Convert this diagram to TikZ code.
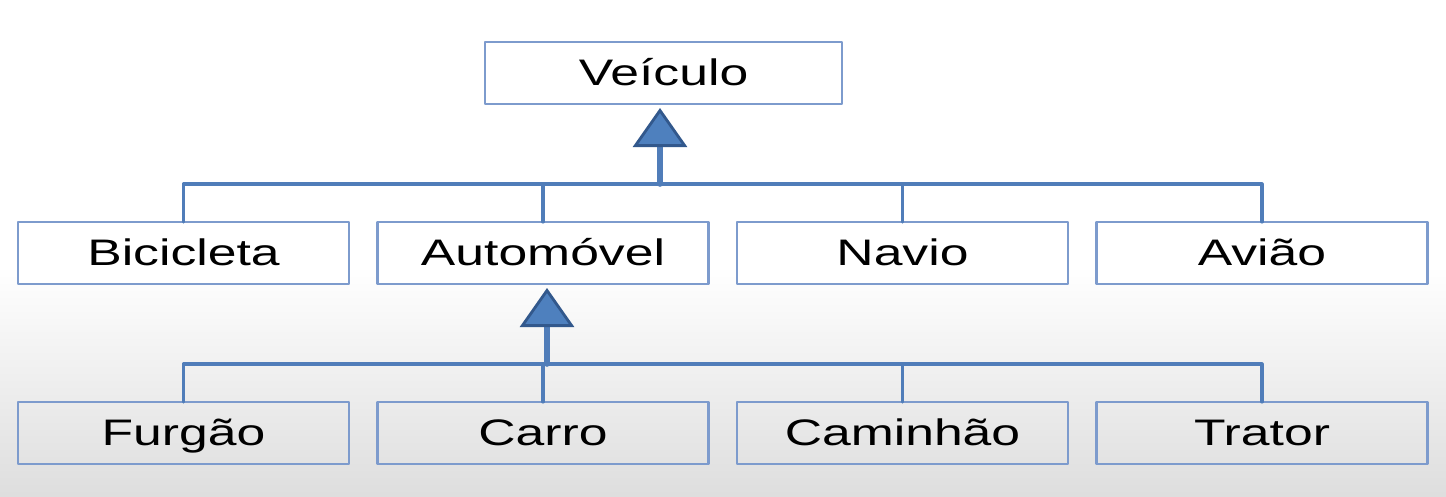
\documentclass[tikz,border=0pt]{standalone}
\usepackage{fontspec}
\setmainfont[FakeStretch=1.4]{Liberation Sans}
\usepackage{tikz}
\usetikzlibrary{arrows.meta}
\usetikzlibrary{positioning}
\definecolor{boxline}{RGB}{125,155,205}
\definecolor{busline}{RGB}{80,125,185}
\definecolor{trifill}{RGB}{78,128,190}
\definecolor{triline}{RGB}{50,88,140}
\begin{document}
\begin{tikzpicture}[line cap=round,line join=round,
  box/.style={draw=boxline,line width=0.8pt,minimum width=3.31cm,minimum height=0.62cm,inner sep=0pt,outer sep=0pt,text height=0.32cm,text depth=0.08cm,font=\fontsize{10.5}{12}\selectfont},
  bus/.style={draw=busline,line width=0.9pt},
  herda/.style={draw=busline,line width=1.6pt,-{Triangle[length=0.39cm,width=0.54cm,fill=trifill,color=triline,line width=0.8pt]},shorten >=0.04cm}]
\useasboundingbox (0,0) rectangle (14.46,4.96);
\fill[white] (0,0) rectangle (14.46,4.96);
\shade[top color=white,bottom color=black!13] (0,0) rectangle (14.46,2.3);
\node[box,fill=white,minimum width=3.57cm] (veic) at (6.635,4.23) {Veículo};
\node[box,fill=white] (bic) at (1.835,2.43) {Bicicleta};
\node[box,fill=white,right=0.285cm of bic] (auto) {Automóvel};
\node[box,fill=white,right=0.285cm of auto] (navio) {Navio};
\node[box,fill=white,right=0.285cm of navio] (aviao) {Avião};
\node[box,below=1.18cm of bic] (furgao) {Furgão};
\node[box,right=0.285cm of furgao] (carro) {Carro};
\node[box,right=0.285cm of carro] (caminhao) {Caminhão};
\node[box,right=0.285cm of caminhao] (trator) {Trator};
\coordinate (b1) at (6.60,3.12);
\coordinate (b2) at (5.47,1.32);
\draw[bus] (bic.north) |- (b1) -| (aviao.north);
\draw[bus] (auto.north) -- (auto.north |- b1);
\draw[bus] (navio.north) -- (navio.north |- b1);
\draw[herda] (b1) -- (veic.south -| b1);
\draw[bus] (furgao.north) |- (b2) -| (trator.north);
\draw[bus] (carro.north) -- (carro.north |- b2);
\draw[bus] (caminhao.north) -- (caminhao.north |- b2);
\draw[herda] (b2) -- (auto.south -| b2);
\end{tikzpicture}
\end{document}
